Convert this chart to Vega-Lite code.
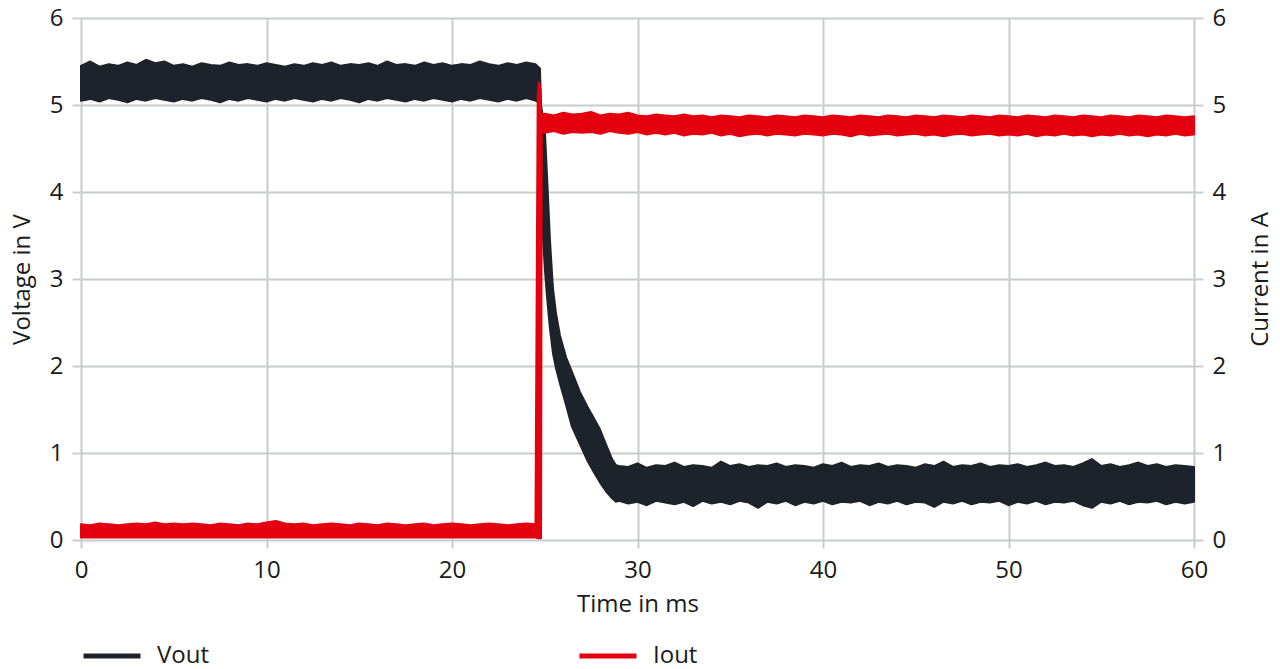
{
  "$schema": "https://vega.github.io/schema/vega-lite/v6.json",
  "autosize": "none",
  "width": 1113,
  "height": 522,
  "padding": {"left": 81, "top": 18, "right": 86, "bottom": 129},
  "background": "white",
  "config": {
    "view": {"stroke": null},
    "font": "Open Sans",
    "axis": {
      "domain": false,
      "grid": true,
      "gridColor": "#c8cccf",
      "gridWidth": 2,
      "tickColor": "#c8cccf",
      "tickWidth": 2,
      "tickSize": 9,
      "labelFlush": false,
      "labelFont": "Open Sans",
      "labelFontSize": 24,
      "labelColor": "#1a1a1a",
      "titleFont": "Open Sans",
      "titleFontSize": 24,
      "titleFontWeight": "normal",
      "titleColor": "#1a1a1a"
    },
    "legend": {
      "labelFont": "Open Sans",
      "labelFontSize": 24,
      "labelColor": "#1a1a1a"
    }
  },
  "datasets": {
    "vout": [
      {"t":0,"hi":5.45,"lo":5.05,"s":"Vout"},{"t":0.5,"hi":5.5,"lo":5.07,"s":"Vout"},{"t":1,"hi":5.44,"lo":5.04,"s":"Vout"},{"t":1.5,"hi":5.47,"lo":5.08,"s":"Vout"},{"t":2,"hi":5.45,"lo":5.06,"s":"Vout"},{"t":2.5,"hi":5.49,"lo":5.03,"s":"Vout"},{"t":3,"hi":5.46,"lo":5.07,"s":"Vout"},{"t":3.5,"hi":5.52,"lo":5.05,"s":"Vout"},{"t":4,"hi":5.48,"lo":5.08,"s":"Vout"},{"t":4.5,"hi":5.5,"lo":5.06,"s":"Vout"},
      {"t":5,"hi":5.45,"lo":5.04,"s":"Vout"},{"t":5.5,"hi":5.47,"lo":5.07,"s":"Vout"},{"t":6,"hi":5.44,"lo":5.05,"s":"Vout"},{"t":6.5,"hi":5.48,"lo":5.08,"s":"Vout"},{"t":7,"hi":5.46,"lo":5.06,"s":"Vout"},{"t":7.5,"hi":5.45,"lo":5.03,"s":"Vout"},{"t":8,"hi":5.49,"lo":5.07,"s":"Vout"},{"t":8.5,"hi":5.46,"lo":5.05,"s":"Vout"},{"t":9,"hi":5.47,"lo":5.08,"s":"Vout"},{"t":9.5,"hi":5.45,"lo":5.06,"s":"Vout"},
      {"t":10,"hi":5.48,"lo":5.04,"s":"Vout"},{"t":10.5,"hi":5.46,"lo":5.07,"s":"Vout"},{"t":11,"hi":5.44,"lo":5.05,"s":"Vout"},{"t":11.5,"hi":5.47,"lo":5.08,"s":"Vout"},{"t":12,"hi":5.45,"lo":5.06,"s":"Vout"},{"t":12.5,"hi":5.48,"lo":5.04,"s":"Vout"},{"t":13,"hi":5.46,"lo":5.07,"s":"Vout"},{"t":13.5,"hi":5.49,"lo":5.05,"s":"Vout"},{"t":14,"hi":5.45,"lo":5.08,"s":"Vout"},{"t":14.5,"hi":5.47,"lo":5.06,"s":"Vout"},
      {"t":15,"hi":5.46,"lo":5.03,"s":"Vout"},{"t":15.5,"hi":5.48,"lo":5.07,"s":"Vout"},{"t":16,"hi":5.45,"lo":5.05,"s":"Vout"},{"t":16.5,"hi":5.5,"lo":5.08,"s":"Vout"},{"t":17,"hi":5.46,"lo":5.06,"s":"Vout"},{"t":17.5,"hi":5.47,"lo":5.04,"s":"Vout"},{"t":18,"hi":5.45,"lo":5.07,"s":"Vout"},{"t":18.5,"hi":5.49,"lo":5.05,"s":"Vout"},{"t":19,"hi":5.46,"lo":5.08,"s":"Vout"},{"t":19.5,"hi":5.48,"lo":5.06,"s":"Vout"},
      {"t":20,"hi":5.45,"lo":5.04,"s":"Vout"},{"t":20.5,"hi":5.47,"lo":5.07,"s":"Vout"},{"t":21,"hi":5.46,"lo":5.05,"s":"Vout"},{"t":21.5,"hi":5.5,"lo":5.08,"s":"Vout"},{"t":22,"hi":5.47,"lo":5.06,"s":"Vout"},{"t":22.5,"hi":5.45,"lo":5.04,"s":"Vout"},{"t":23,"hi":5.48,"lo":5.07,"s":"Vout"},{"t":23.5,"hi":5.46,"lo":5.05,"s":"Vout"},{"t":24,"hi":5.49,"lo":5.08,"s":"Vout"},{"t":24.5,"hi":5.47,"lo":5.05,"s":"Vout"},
      {"t":24.74,"hi":5.42,"lo":5.02,"s":"Vout"},{"t":24.8,"hi":5.0,"lo":4.0,"s":"Vout"},{"t":24.91,"hi":4.85,"lo":3.45,"s":"Vout"},{"t":25.01,"hi":4.69,"lo":3.1,"s":"Vout"},{"t":25.12,"hi":4.2,"lo":2.8,"s":"Vout"},{"t":25.28,"hi":3.45,"lo":2.43,"s":"Vout"},{"t":25.44,"hi":2.9,"lo":2.15,"s":"Vout"},{"t":25.61,"hi":2.6,"lo":1.97,"s":"Vout"},{"t":25.82,"hi":2.35,"lo":1.8,"s":"Vout"},{"t":26.15,"hi":2.1,"lo":1.55,"s":"Vout"},
      {"t":26.47,"hi":1.93,"lo":1.3,"s":"Vout"},{"t":26.9,"hi":1.7,"lo":1.1,"s":"Vout"},{"t":27.28,"hi":1.54,"lo":0.92,"s":"Vout"},{"t":27.65,"hi":1.4,"lo":0.78,"s":"Vout"},{"t":27.98,"hi":1.27,"lo":0.66,"s":"Vout"},{"t":28.3,"hi":1.1,"lo":0.56,"s":"Vout"},{"t":28.63,"hi":0.93,"lo":0.48,"s":"Vout"},{"t":28.84,"hi":0.86,"lo":0.44,"s":"Vout"},
      {"t":29,"hi":0.85,"lo":0.45,"s":"Vout"},{"t":29.5,"hi":0.84,"lo":0.42,"s":"Vout"},{"t":30,"hi":0.88,"lo":0.44,"s":"Vout"},{"t":30.5,"hi":0.83,"lo":0.4,"s":"Vout"},{"t":31,"hi":0.86,"lo":0.45,"s":"Vout"},{"t":31.5,"hi":0.85,"lo":0.43,"s":"Vout"},{"t":32,"hi":0.89,"lo":0.41,"s":"Vout"},{"t":32.5,"hi":0.84,"lo":0.44,"s":"Vout"},{"t":33,"hi":0.86,"lo":0.39,"s":"Vout"},{"t":33.5,"hi":0.85,"lo":0.45,"s":"Vout"},
      {"t":34,"hi":0.83,"lo":0.42,"s":"Vout"},{"t":34.5,"hi":0.9,"lo":0.44,"s":"Vout"},{"t":35,"hi":0.85,"lo":0.41,"s":"Vout"},{"t":35.5,"hi":0.87,"lo":0.45,"s":"Vout"},{"t":36,"hi":0.84,"lo":0.43,"s":"Vout"},{"t":36.5,"hi":0.86,"lo":0.37,"s":"Vout"},{"t":37,"hi":0.85,"lo":0.44,"s":"Vout"},{"t":37.5,"hi":0.88,"lo":0.42,"s":"Vout"},{"t":38,"hi":0.84,"lo":0.45,"s":"Vout"},{"t":38.5,"hi":0.86,"lo":0.4,"s":"Vout"},
      {"t":39,"hi":0.85,"lo":0.44,"s":"Vout"},{"t":39.5,"hi":0.83,"lo":0.42,"s":"Vout"},{"t":40,"hi":0.87,"lo":0.45,"s":"Vout"},{"t":40.5,"hi":0.85,"lo":0.41,"s":"Vout"},{"t":41,"hi":0.89,"lo":0.44,"s":"Vout"},{"t":41.5,"hi":0.84,"lo":0.43,"s":"Vout"},{"t":42,"hi":0.86,"lo":0.45,"s":"Vout"},{"t":42.5,"hi":0.85,"lo":0.4,"s":"Vout"},{"t":43,"hi":0.88,"lo":0.44,"s":"Vout"},{"t":43.5,"hi":0.84,"lo":0.42,"s":"Vout"},
      {"t":44,"hi":0.86,"lo":0.45,"s":"Vout"},{"t":44.5,"hi":0.85,"lo":0.41,"s":"Vout"},{"t":45,"hi":0.83,"lo":0.44,"s":"Vout"},{"t":45.5,"hi":0.87,"lo":0.43,"s":"Vout"},{"t":46,"hi":0.85,"lo":0.38,"s":"Vout"},{"t":46.5,"hi":0.9,"lo":0.44,"s":"Vout"},{"t":47,"hi":0.84,"lo":0.42,"s":"Vout"},{"t":47.5,"hi":0.86,"lo":0.45,"s":"Vout"},{"t":48,"hi":0.85,"lo":0.41,"s":"Vout"},{"t":48.5,"hi":0.88,"lo":0.44,"s":"Vout"},
      {"t":49,"hi":0.84,"lo":0.43,"s":"Vout"},{"t":49.5,"hi":0.86,"lo":0.45,"s":"Vout"},{"t":50,"hi":0.85,"lo":0.4,"s":"Vout"},{"t":50.5,"hi":0.87,"lo":0.44,"s":"Vout"},{"t":51,"hi":0.84,"lo":0.42,"s":"Vout"},{"t":51.5,"hi":0.86,"lo":0.45,"s":"Vout"},{"t":52,"hi":0.89,"lo":0.41,"s":"Vout"},{"t":52.5,"hi":0.85,"lo":0.44,"s":"Vout"},{"t":53,"hi":0.86,"lo":0.43,"s":"Vout"},{"t":53.5,"hi":0.84,"lo":0.45,"s":"Vout"},
      {"t":54,"hi":0.88,"lo":0.4,"s":"Vout"},{"t":54.5,"hi":0.93,"lo":0.37,"s":"Vout"},{"t":55,"hi":0.85,"lo":0.44,"s":"Vout"},{"t":55.5,"hi":0.87,"lo":0.42,"s":"Vout"},{"t":56,"hi":0.84,"lo":0.45,"s":"Vout"},{"t":56.5,"hi":0.86,"lo":0.41,"s":"Vout"},{"t":57,"hi":0.89,"lo":0.44,"s":"Vout"},{"t":57.5,"hi":0.85,"lo":0.43,"s":"Vout"},{"t":58,"hi":0.87,"lo":0.45,"s":"Vout"},{"t":58.5,"hi":0.84,"lo":0.41,"s":"Vout"},
      {"t":59,"hi":0.86,"lo":0.44,"s":"Vout"},{"t":59.5,"hi":0.85,"lo":0.42,"s":"Vout"},{"t":60,"hi":0.84,"lo":0.44,"s":"Vout"}
    ],
    "iout": [
      {"t":0,"hi":0.18,"lo":0.03,"s":"Iout"},{"t":0.5,"hi":0.17,"lo":0.03,"s":"Iout"},{"t":1,"hi":0.19,"lo":0.03,"s":"Iout"},{"t":1.5,"hi":0.18,"lo":0.03,"s":"Iout"},{"t":2,"hi":0.17,"lo":0.03,"s":"Iout"},{"t":2.5,"hi":0.18,"lo":0.03,"s":"Iout"},{"t":3,"hi":0.19,"lo":0.03,"s":"Iout"},{"t":3.5,"hi":0.18,"lo":0.03,"s":"Iout"},{"t":4,"hi":0.2,"lo":0.03,"s":"Iout"},{"t":4.5,"hi":0.18,"lo":0.03,"s":"Iout"},
      {"t":5,"hi":0.19,"lo":0.03,"s":"Iout"},{"t":5.5,"hi":0.18,"lo":0.03,"s":"Iout"},{"t":6,"hi":0.19,"lo":0.03,"s":"Iout"},{"t":6.5,"hi":0.18,"lo":0.03,"s":"Iout"},{"t":7,"hi":0.17,"lo":0.03,"s":"Iout"},{"t":7.5,"hi":0.19,"lo":0.03,"s":"Iout"},{"t":8,"hi":0.18,"lo":0.03,"s":"Iout"},{"t":8.5,"hi":0.17,"lo":0.03,"s":"Iout"},{"t":9,"hi":0.19,"lo":0.03,"s":"Iout"},{"t":9.5,"hi":0.18,"lo":0.03,"s":"Iout"},
      {"t":10,"hi":0.2,"lo":0.03,"s":"Iout"},{"t":10.5,"hi":0.22,"lo":0.03,"s":"Iout"},{"t":11,"hi":0.19,"lo":0.03,"s":"Iout"},{"t":11.5,"hi":0.18,"lo":0.03,"s":"Iout"},{"t":12,"hi":0.19,"lo":0.03,"s":"Iout"},{"t":12.5,"hi":0.17,"lo":0.03,"s":"Iout"},{"t":13,"hi":0.18,"lo":0.03,"s":"Iout"},{"t":13.5,"hi":0.19,"lo":0.03,"s":"Iout"},{"t":14,"hi":0.18,"lo":0.03,"s":"Iout"},{"t":14.5,"hi":0.17,"lo":0.03,"s":"Iout"},
      {"t":15,"hi":0.19,"lo":0.03,"s":"Iout"},{"t":15.5,"hi":0.18,"lo":0.03,"s":"Iout"},{"t":16,"hi":0.17,"lo":0.03,"s":"Iout"},{"t":16.5,"hi":0.19,"lo":0.03,"s":"Iout"},{"t":17,"hi":0.18,"lo":0.03,"s":"Iout"},{"t":17.5,"hi":0.17,"lo":0.03,"s":"Iout"},{"t":18,"hi":0.18,"lo":0.03,"s":"Iout"},{"t":18.5,"hi":0.19,"lo":0.03,"s":"Iout"},{"t":19,"hi":0.17,"lo":0.03,"s":"Iout"},{"t":19.5,"hi":0.18,"lo":0.03,"s":"Iout"},
      {"t":20,"hi":0.19,"lo":0.03,"s":"Iout"},{"t":20.5,"hi":0.18,"lo":0.03,"s":"Iout"},{"t":21,"hi":0.17,"lo":0.03,"s":"Iout"},{"t":21.5,"hi":0.18,"lo":0.03,"s":"Iout"},{"t":22,"hi":0.19,"lo":0.03,"s":"Iout"},{"t":22.5,"hi":0.18,"lo":0.03,"s":"Iout"},{"t":23,"hi":0.17,"lo":0.03,"s":"Iout"},{"t":23.5,"hi":0.18,"lo":0.03,"s":"Iout"},{"t":24,"hi":0.19,"lo":0.03,"s":"Iout"},{"t":24.5,"hi":0.18,"lo":0.03,"s":"Iout"},
      {"t":24.62,"hi":5.1,"lo":0.02,"s":"Iout"},{"t":24.68,"hi":5.26,"lo":0.02,"s":"Iout"},{"t":24.76,"hi":5.2,"lo":0.02,"s":"Iout"},{"t":24.8,"hi":4.9,"lo":0.02,"s":"Iout"},{"t":24.84,"hi":4.89,"lo":4.68,"s":"Iout"},
      {"t":25,"hi":4.9,"lo":4.68,"s":"Iout"},{"t":25.5,"hi":4.88,"lo":4.7,"s":"Iout"},{"t":26,"hi":4.91,"lo":4.67,"s":"Iout"},{"t":26.5,"hi":4.89,"lo":4.69,"s":"Iout"},{"t":27,"hi":4.9,"lo":4.68,"s":"Iout"},{"t":27.5,"hi":4.92,"lo":4.69,"s":"Iout"},{"t":28,"hi":4.88,"lo":4.67,"s":"Iout"},{"t":28.5,"hi":4.9,"lo":4.7,"s":"Iout"},{"t":29,"hi":4.89,"lo":4.68,"s":"Iout"},{"t":29.5,"hi":4.91,"lo":4.67,"s":"Iout"},
      {"t":30,"hi":4.88,"lo":4.69,"s":"Iout"},{"t":30.5,"hi":4.87,"lo":4.66,"s":"Iout"},{"t":31,"hi":4.89,"lo":4.68,"s":"Iout"},{"t":31.5,"hi":4.88,"lo":4.66,"s":"Iout"},{"t":32,"hi":4.87,"lo":4.68,"s":"Iout"},{"t":32.5,"hi":4.89,"lo":4.65,"s":"Iout"},{"t":33,"hi":4.87,"lo":4.67,"s":"Iout"},{"t":33.5,"hi":4.88,"lo":4.66,"s":"Iout"},{"t":34,"hi":4.86,"lo":4.68,"s":"Iout"},{"t":34.5,"hi":4.88,"lo":4.65,"s":"Iout"},
      {"t":35,"hi":4.87,"lo":4.67,"s":"Iout"},{"t":35.5,"hi":4.86,"lo":4.64,"s":"Iout"},{"t":36,"hi":4.88,"lo":4.66,"s":"Iout"},{"t":36.5,"hi":4.87,"lo":4.67,"s":"Iout"},{"t":37,"hi":4.86,"lo":4.65,"s":"Iout"},{"t":37.5,"hi":4.88,"lo":4.67,"s":"Iout"},{"t":38,"hi":4.87,"lo":4.66,"s":"Iout"},{"t":38.5,"hi":4.86,"lo":4.65,"s":"Iout"},{"t":39,"hi":4.88,"lo":4.67,"s":"Iout"},{"t":39.5,"hi":4.87,"lo":4.66,"s":"Iout"},
      {"t":40,"hi":4.86,"lo":4.65,"s":"Iout"},{"t":40.5,"hi":4.88,"lo":4.67,"s":"Iout"},{"t":41,"hi":4.87,"lo":4.66,"s":"Iout"},{"t":41.5,"hi":4.86,"lo":4.64,"s":"Iout"},{"t":42,"hi":4.88,"lo":4.67,"s":"Iout"},{"t":42.5,"hi":4.87,"lo":4.65,"s":"Iout"},{"t":43,"hi":4.86,"lo":4.66,"s":"Iout"},{"t":43.5,"hi":4.88,"lo":4.67,"s":"Iout"},{"t":44,"hi":4.87,"lo":4.65,"s":"Iout"},{"t":44.5,"hi":4.86,"lo":4.66,"s":"Iout"},
      {"t":45,"hi":4.88,"lo":4.67,"s":"Iout"},{"t":45.5,"hi":4.87,"lo":4.65,"s":"Iout"},{"t":46,"hi":4.86,"lo":4.66,"s":"Iout"},{"t":46.5,"hi":4.88,"lo":4.64,"s":"Iout"},{"t":47,"hi":4.87,"lo":4.66,"s":"Iout"},{"t":47.5,"hi":4.86,"lo":4.67,"s":"Iout"},{"t":48,"hi":4.88,"lo":4.65,"s":"Iout"},{"t":48.5,"hi":4.87,"lo":4.66,"s":"Iout"},{"t":49,"hi":4.86,"lo":4.67,"s":"Iout"},{"t":49.5,"hi":4.88,"lo":4.65,"s":"Iout"},
      {"t":50,"hi":4.87,"lo":4.66,"s":"Iout"},{"t":50.5,"hi":4.86,"lo":4.65,"s":"Iout"},{"t":51,"hi":4.88,"lo":4.67,"s":"Iout"},{"t":51.5,"hi":4.87,"lo":4.64,"s":"Iout"},{"t":52,"hi":4.86,"lo":4.66,"s":"Iout"},{"t":52.5,"hi":4.88,"lo":4.65,"s":"Iout"},{"t":53,"hi":4.87,"lo":4.67,"s":"Iout"},{"t":53.5,"hi":4.86,"lo":4.65,"s":"Iout"},{"t":54,"hi":4.88,"lo":4.66,"s":"Iout"},{"t":54.5,"hi":4.87,"lo":4.64,"s":"Iout"},
      {"t":55,"hi":4.86,"lo":4.66,"s":"Iout"},{"t":55.5,"hi":4.88,"lo":4.65,"s":"Iout"},{"t":56,"hi":4.87,"lo":4.67,"s":"Iout"},{"t":56.5,"hi":4.86,"lo":4.65,"s":"Iout"},{"t":57,"hi":4.88,"lo":4.66,"s":"Iout"},{"t":57.5,"hi":4.87,"lo":4.64,"s":"Iout"},{"t":58,"hi":4.86,"lo":4.66,"s":"Iout"},{"t":58.5,"hi":4.88,"lo":4.65,"s":"Iout"},{"t":59,"hi":4.87,"lo":4.67,"s":"Iout"},{"t":59.5,"hi":4.86,"lo":4.65,"s":"Iout"},
      {"t":60,"hi":4.87,"lo":4.66,"s":"Iout"}
    ]
  },
  "encoding": {
    "x": {
      "field": "t", "type": "quantitative",
      "scale": {"domain": [0, 60], "nice": false, "zero": false},
      "axis": {"values": [0, 10, 20, 30, 40, 50, 60], "title": "Time in ms", "labelFlush": false, "labelFontSize": 24, "titleFontSize": 24, "labelPadding": 10, "titlePadding": 10, "tickSize": 8}
    }
  },
  "layer": [
    {
      "data": {"name": "vout"},
      "mark": {"type": "area", "strokeWidth": 2, "strokeJoin": "round", "fillOpacity": 1},
      "encoding": {
        "y": {
          "field": "lo", "type": "quantitative",
          "scale": {"domain": [0, 6], "nice": false},
          "axis": {"orient": "left", "values": [0, 1, 2, 3, 4, 5, 6], "title": "Voltage in V", "labelFlush": false, "labelFontSize": 24, "titleFontSize": 24, "labelPadding": 9, "titlePadding": 15}
        },
        "y2": {"field": "hi"},
        "fill": {"field": "s", "type": "nominal", "scale": {"domain": ["Vout", "Iout"], "range": ["#1e232b", "#e3000f"]}, "legend": {"orient": "none", "legendX": 0, "legendY": 607, "direction": "horizontal", "columns": 2, "columnPadding": 359, "symbolType": "stroke", "symbolSize": 3249, "symbolStrokeWidth": 5, "labelOffset": 14, "labelFontSize": 24, "title": null, "encode": {"symbols": {"update": {"stroke": {"scale": "fill", "field": "value"}, "strokeWidth": {"value": 5}, "opacity": {"value": 1}}}}}},
        "stroke": {"field": "s", "type": "nominal", "scale": {"domain": ["Vout", "Iout"], "range": ["#1e232b", "#e3000f"]}, "legend": null}
      }
    },
    {
      "data": {"name": "iout"},
      "mark": {"type": "area", "strokeWidth": 2, "strokeJoin": "round", "fillOpacity": 1},
      "encoding": {
        "y": {
          "field": "lo", "type": "quantitative",
          "scale": {"domain": [0, 6], "nice": false},
          "axis": {"orient": "right", "values": [0, 1, 2, 3, 4, 5, 6], "grid": false, "title": "Current in A", "titleAngle": 270, "titleBaseline": "top", "labelFlush": false, "labelFontSize": 24, "titleFontSize": 24, "labelPadding": 9, "titlePadding": 23}
        },
        "y2": {"field": "hi"},
        "fill": {"field": "s", "type": "nominal"},
        "stroke": {"field": "s", "type": "nominal", "legend": null}
      }
    }
  ],
  "resolve": {"scale": {"y": "independent"}}
}
